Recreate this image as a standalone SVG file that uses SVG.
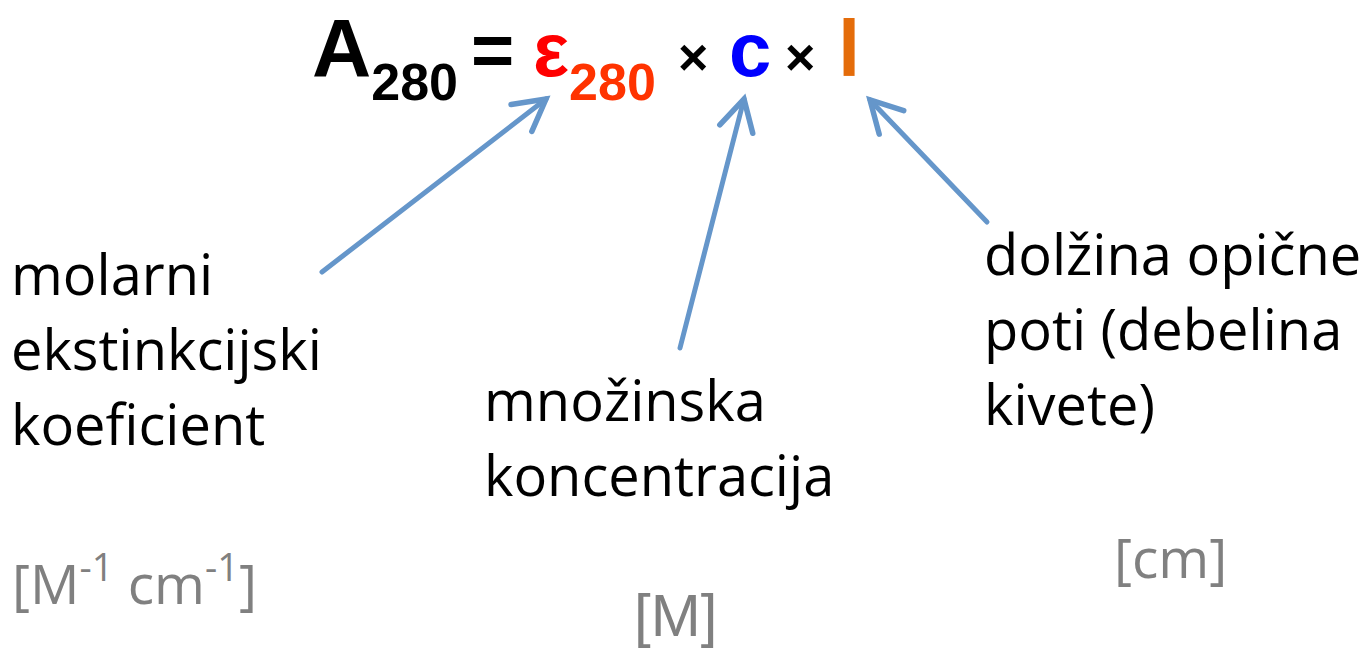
<svg xmlns="http://www.w3.org/2000/svg" width="1363" height="649" viewBox="0 0 1363 649">
  <style>
    .t { font-family: "Open Sans", "Noto Sans", "DejaVu Sans", sans-serif; }
    .eq { font-family: "Liberation Sans", Arial, sans-serif; font-weight: bold; }
    .lbl { font-size: 56px; fill: #000000; }
    .unit { font-size: 55px; fill: #808080; }
    .conn { stroke: #6596ca; stroke-width: 5; fill: none; stroke-linecap: round; }
  </style>
  <defs>
    <marker id="arr" markerUnits="userSpaceOnUse" viewBox="-40 -22 46 44" markerWidth="46" markerHeight="44" refX="0" refY="0" orient="auto" overflow="visible">
      <path d="M -31 -17 L 0 0 L -31 17" fill="none" stroke="#6596ca" stroke-width="5.5" stroke-linecap="round" stroke-linejoin="miter"/>
    </marker>
  </defs>
  <rect width="1363" height="649" fill="#ffffff"/>

  <g id="equation" class="eq">
    <text x="312" y="76" font-size="82" fill="#000000">A<tspan font-size="52" dy="24">280</tspan></text>
    <text x="471" y="76" font-size="74" fill="#000000">=</text>
    <text x="533" y="76" font-size="76" fill="#ff0000">ε<tspan font-size="52" dy="24" fill="#ff3300">280</tspan></text>
    <text x="678" y="75" font-size="52" fill="#000000">×</text>
    <text x="729" y="76" font-size="76" fill="#0000ff">c</text>
    <text x="785" y="75" font-size="52" fill="#000000">×</text>
    <text x="838" y="76" font-size="80" fill="#e46c0a">l</text>
  </g>

  <g id="connectors">
    <line class="conn" x1="322" y1="272" x2="546" y2="99" marker-end="url(#arr)"/>
    <line class="conn" x1="680" y1="348" x2="744" y2="99" marker-end="url(#arr)"/>
    <line class="conn" x1="987" y1="222" x2="870" y2="100" marker-end="url(#arr)"/>
  </g>

  <g id="node-epsilon">
    <text class="t lbl" x="11" y="295">molarni</text>
    <text class="t lbl" x="11" y="370">ekstinkcijski</text>
    <text class="t lbl" x="11" y="445">koeficient</text>
    <text class="t unit" x="12" y="604" font-size="56">[M<tspan font-size="38" dy="-23">-1</tspan><tspan dy="23"> cm</tspan><tspan font-size="38" dy="-23">-1</tspan><tspan dy="23">]</tspan></text>
  </g>

  <g id="node-c">
    <text class="t lbl" x="484" y="421">množinska</text>
    <text class="t lbl" x="484" y="496">koncentracija</text>
    <text x="634" y="636" font-family="'Liberation Sans', Arial, sans-serif" font-size="60" fill="#808080">[M]</text>
  </g>

  <g id="node-l">
    <text class="t lbl" x="984" y="275">dolžina opične</text>
    <text class="t lbl" x="984" y="350">poti (debelina</text>
    <text class="t lbl" x="984" y="425">kivete)</text>
    <text class="t unit" x="1114" y="578">[cm]</text>
  </g>
</svg>
